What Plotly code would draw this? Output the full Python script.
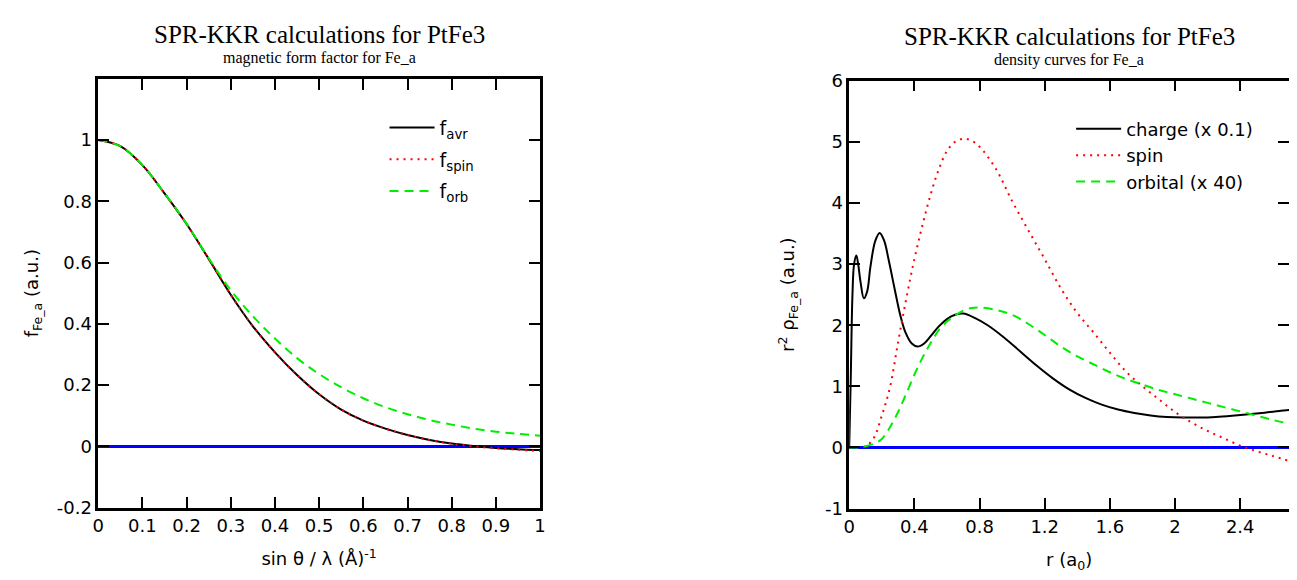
import plotly.graph_objects as go

# ---------------- data: left panel (magnetic form factor) ----------------
s_vals = [0.0, 0.05, 0.1, 0.15, 0.2, 0.25, 0.3, 0.35, 0.4, 0.45, 0.5,
          0.55, 0.6, 0.65, 0.7, 0.75, 0.8, 0.85, 0.9, 0.95, 1.0]
f_avr = [1.0, 0.98, 0.918, 0.826, 0.726, 0.612, 0.495, 0.392, 0.307, 0.233, 0.170,
         0.12, 0.084, 0.058, 0.037, 0.021, 0.009, 0.001, -0.005, -0.009, -0.012]
f_spin = [1.0, 0.98, 0.918, 0.826, 0.726, 0.612, 0.495, 0.392, 0.307, 0.233, 0.170,
          0.12, 0.084, 0.058, 0.037, 0.021, 0.009, 0.0, -0.006, -0.011, -0.015]
f_orb = [1.0, 0.98, 0.918, 0.826, 0.727, 0.614, 0.51, 0.425, 0.352, 0.288, 0.236,
         0.193, 0.157, 0.128, 0.105, 0.086, 0.071, 0.058, 0.048, 0.041, 0.035]

# ---------------- data: right panel (density curves) ----------------
r_charge = [0.0, 0.01, 0.02, 0.03, 0.044, 0.055, 0.07, 0.09, 0.11, 0.13, 0.16,
            0.187, 0.215, 0.242, 0.283, 0.313, 0.344, 0.384, 0.42, 0.46, 0.5,
            0.55, 0.6, 0.65, 0.7, 0.77, 0.85, 0.95, 1.05, 1.15, 1.25, 1.35,
            1.45, 1.55, 1.65, 1.75, 1.85, 1.95, 2.05, 2.15, 2.25, 2.35, 2.45,
            2.55, 2.65, 2.7]
charge = [0.0, 1.2, 2.5, 3.0, 3.14, 3.0, 2.7, 2.44, 2.55, 2.95, 3.38,
          3.51, 3.38, 3.07, 2.54, 2.17, 1.89, 1.70, 1.65, 1.70, 1.82,
          1.98, 2.1, 2.17, 2.19, 2.12, 2.0, 1.8, 1.57, 1.34, 1.13, 0.95,
          0.81, 0.70, 0.62, 0.565, 0.525, 0.5, 0.49, 0.49, 0.5, 0.52, 0.545,
          0.57, 0.6, 0.615]
r_grid = [0.0, 0.05, 0.1, 0.15, 0.2, 0.25, 0.3, 0.35, 0.4, 0.45, 0.5, 0.55,
          0.6, 0.65, 0.7, 0.75, 0.8, 0.9, 1.0, 1.1, 1.2, 1.3, 1.4, 1.5, 1.6,
          1.7, 1.8, 1.9, 2.0, 2.1, 2.2, 2.3, 2.4, 2.5, 2.6, 2.7]
spin = [0.0, 0.0, 0.02, 0.15, 0.52, 0.98, 1.72, 2.43, 3.08, 3.64, 4.14, 4.55,
        4.85, 5.0, 5.05, 5.02, 4.92, 4.56, 4.03, 3.55, 3.08, 2.6, 2.2, 1.88, 1.55,
        1.24, 1.0, 0.79, 0.58, 0.41, 0.27, 0.15, 0.03, -0.06, -0.14, -0.22]
orbital = [0.0, 0.0, 0.02, 0.06, 0.14, 0.33, 0.58, 0.88, 1.19, 1.47, 1.71, 1.92,
           2.06, 2.16, 2.24, 2.28, 2.29, 2.25, 2.17, 2.02, 1.84, 1.65, 1.49, 1.36, 1.23,
           1.12, 1.03, 0.94, 0.87, 0.8, 0.73, 0.66, 0.59, 0.52, 0.45, 0.39]

# tick labels
left_x_ticks = [0, 0.1, 0.2, 0.3, 0.4, 0.5, 0.6, 0.7, 0.8, 0.9, 1.0]
left_x_labels = ["0", "0.1", "0.2", "0.3", "0.4", "0.5", "0.6", "0.7", "0.8", "0.9", "1"]
left_y_ticks = [-0.2, 0, 0.2, 0.4, 0.6, 0.8, 1.0]
left_y_labels = ["-0.2", "0", "0.2", "0.4", "0.6", "0.8", "1"]
right_x_ticks = [0, 0.4, 0.8, 1.2, 1.6, 2.0, 2.4]
right_x_labels = ["0", "0.4", "0.8", "1.2", "1.6", "2", "2.4"]
right_y_ticks = [-1, 0, 1, 2, 3, 4, 5, 6]
right_y_labels = ["-1", "0", "1", "2", "3", "4", "5", "6"]

W, H = 1297, 580
SANS = "DejaVu Sans"
SERIF = "Liberation Serif"

def px_x(p):
    return p / W

def px_y(p):
    return 1 - p / H

fig = go.Figure()

lw = 2
fig.add_trace(go.Scatter(x=s_vals, y=f_avr, mode="lines", name="f<sub>avr</sub>",
                         line=dict(color="black", width=lw, shape="spline"),
                         xaxis="x", yaxis="y", legend="legend", legendgroup="a"))
fig.add_trace(go.Scatter(x=s_vals, y=f_spin, mode="lines", name="f<sub>spin</sub>",
                         line=dict(color="red", width=lw, dash="2px,5px", shape="spline"),
                         xaxis="x", yaxis="y", legend="legend", legendgroup="b"))
fig.add_trace(go.Scatter(x=s_vals, y=f_orb, mode="lines", name="f<sub>orb</sub>",
                         line=dict(color="#00ee00", width=lw, dash="9px,6px", shape="spline"),
                         xaxis="x", yaxis="y", legend="legend", legendgroup="c"))

fig.add_trace(go.Scatter(x=r_charge, y=charge, mode="lines", name="charge (x 0.1)",
                         line=dict(color="black", width=lw, shape="spline"),
                         xaxis="x2", yaxis="y2", legend="legend2"))
fig.add_trace(go.Scatter(x=r_grid, y=spin, mode="lines", name="spin",
                         line=dict(color="red", width=lw, dash="2px,5px", shape="spline"),
                         xaxis="x2", yaxis="y2", legend="legend2"))
fig.add_trace(go.Scatter(x=r_grid, y=orbital, mode="lines", name="orbital (x 40)",
                         line=dict(color="#00ee00", width=lw, dash="9px,6px", shape="spline"),
                         xaxis="x2", yaxis="y2", legend="legend2"))

axis_common = dict(showline=True, linecolor="black", linewidth=2.5, mirror="ticks",
                   ticks="inside", ticklen=11, tickwidth=2, tickcolor="black",
                   showgrid=False, tickfont=dict(family=SANS, size=18, color="black"),
                   title_font=dict(family=SANS, size=18, color="black"))

fig.update_layout(
    width=W, height=H,
    margin=dict(l=0, r=0, t=0, b=0),
    paper_bgcolor="white", plot_bgcolor="white",
    xaxis=dict(domain=[px_x(85), px_x(531)], range=[0, 1], anchor="y",
               tickvals=left_x_ticks, ticktext=left_x_labels, zeroline=False,
               title=dict(text="sin θ / λ (Å)<sup>-1</sup>", standoff=18), **axis_common),
    yaxis=dict(domain=[px_y(507), px_y(62)], range=[-0.2, 1.2], anchor="x",
               tickvals=left_y_ticks, ticktext=left_y_labels,
               zeroline=True, zerolinecolor="blue", zerolinewidth=3,
               title=dict(text="f<sub>Fe_a</sub> (a.u.)", standoff=14), **axis_common),
    xaxis2=dict(domain=[px_x(843), px_x(1287)], range=[0, 2.7], anchor="y2",
                tickvals=right_x_ticks, ticktext=right_x_labels, zeroline=False,
                title=dict(text="r (a<sub>0</sub>)", standoff=18), **axis_common),
    yaxis2=dict(domain=[px_y(508), px_y(64)], range=[-1, 6], anchor="x2",
                tickvals=right_y_ticks, ticktext=right_y_labels,
                zeroline=True, zerolinecolor="blue", zerolinewidth=3,
                title=dict(text="r<sup>2</sup> ρ<sub>Fe_a</sub> (a.u.)", standoff=26), **axis_common),
    legend=dict(x=px_x(374), y=px_y(93), xanchor="left", yanchor="top",
                bgcolor="rgba(0,0,0,0)", borderwidth=0, itemwidth=45,
                tracegroupgap=4,
                font=dict(family=SANS, size=19, color="black")),
    legend2=dict(x=px_x(1067), y=px_y(95), xanchor="left", yanchor="top",
                 bgcolor="rgba(0,0,0,0)", borderwidth=0, itemwidth=45,
                 font=dict(family=SANS, size=18, color="black")),
    showlegend=True,
)

annotations = [
    dict(text="SPR-KKR calculations for PtFe3", x=px_x(308), y=px_y(16),
         font=dict(family=SERIF, size=25, color="black")),
    dict(text="magnetic form factor for Fe_a", x=px_x(308), y=px_y(40),
         font=dict(family=SERIF, size=16, color="black")),
    dict(text="SPR-KKR calculations for PtFe3", x=px_x(1065), y=px_y(18),
         font=dict(family=SERIF, size=25, color="black")),
    dict(text="density curves for Fe_a", x=px_x(1065), y=px_y(43),
         font=dict(family=SERIF, size=16, color="black")),
]
for a in annotations:
    a.update(xref="paper", yref="paper", showarrow=False, xanchor="center", yanchor="middle")
fig.update_layout(annotations=annotations)

fig.write_html("out.html")
